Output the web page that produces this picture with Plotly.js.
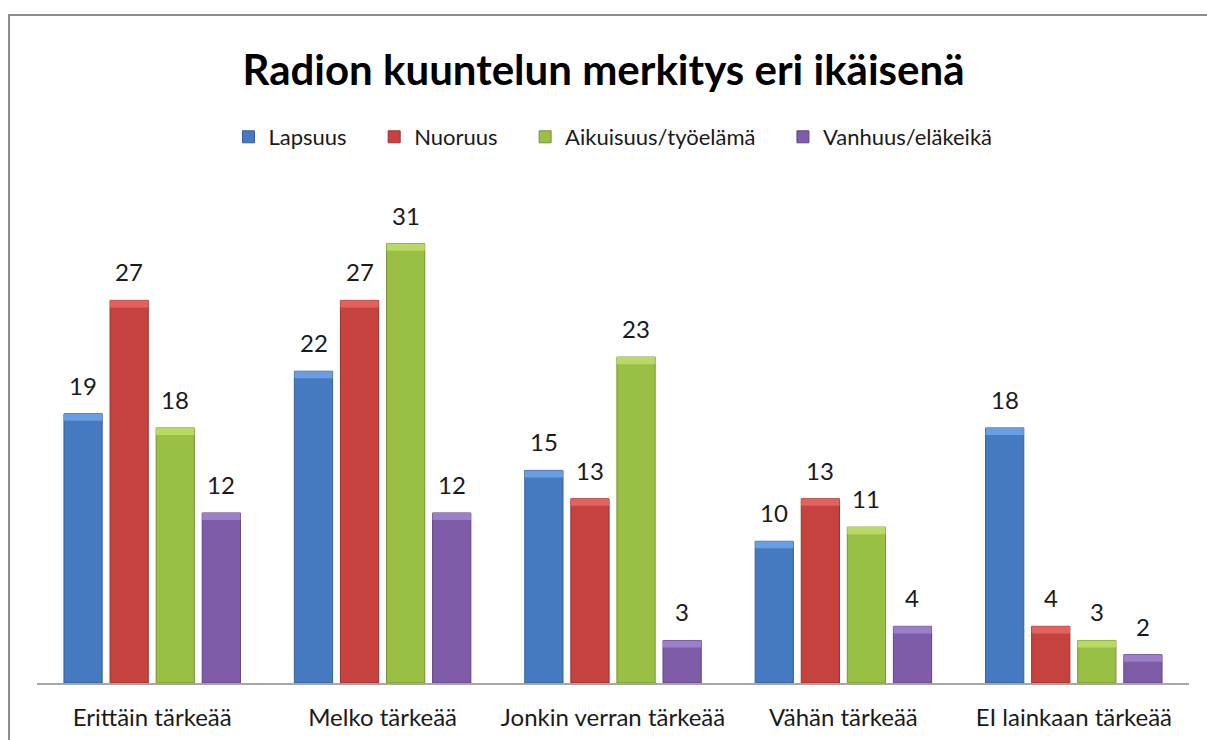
<!DOCTYPE html>
<html>
<head>
<meta charset="utf-8">
<script src="https://cdn.plot.ly/plotly-3.0.1.min.js"></script>
<style>
  html, body { margin: 0; padding: 0; background: #ffffff; }
  #wrap { position: relative; width: 1207px; height: 740px; overflow: hidden; }
  #chart { position: absolute; left: 0; top: 0; width: 1207px; height: 740px; }
  #frame { position: absolute; left: 8px; top: 14px; width: 1300px; height: 800px;
           border-left: 2px solid #8c8c8c; border-top: 2px solid #8c8c8c; pointer-events: none; }
</style>
</head>
<body>
<div id="wrap">
  <div id="chart"></div>
  <div id="frame"></div>
</div>
<script>
const categories = ["Erittäin tärkeää", "Melko tärkeää", "Jonkin verran tärkeää", "Vähän tärkeää", "EI lainkaan tärkeää"];
const seriesNames = ["Lapsuus", "Nuoruus", "Aikuisuus/työelämä", "Vanhuus/eläkeikä"];
const lapsuus = [19, 22, 15, 10, 18];
const nuoruus = [27, 27, 13, 13, 4];
const aikuisuus = [18, 31, 23, 11, 3];
const vanhuus = [12, 12, 3, 4, 2];
const chartTitle = "Radion kuuntelun merkitys eri ikäisenä";

const seriesValues = [lapsuus, nuoruus, aikuisuus, vanhuus];
const colors = ["#4579C0", "#C6423E", "#9ABF45", "#7E5CA8"];
const capColors = ["#6A9EE0", "#E2625E", "#B8DA64", "#9D7EC8"];
const lineColors = ["#365F98", "#973230", "#76932F", "#5E4583"];

const FONT = "Lato, 'Liberation Sans', sans-serif";
const PAD = '\u00a0\u00a0\u00a0\u00a0';
const CAP = 0.5; // bevel cap height in data units

const traces = [];
seriesValues.forEach((vals, i) => {
  traces.push({
    type: 'bar',
    name: seriesNames[i] + (i < seriesValues.length - 1 ? PAD : ''),
    x: categories,
    y: vals,
    offsetgroup: 'g' + i,
    marker: { color: colors[i], line: { color: lineColors[i], width: 1 } },
    hoverinfo: 'skip'
  });
});
seriesValues.forEach((vals, i) => {
  traces.push({
    type: 'bar',
    name: seriesNames[i] + ' cap',
    showlegend: false,
    x: categories,
    y: vals.map(() => CAP),
    base: vals.map(v => v - CAP),
    offsetgroup: 'g' + i,
    marker: { color: capColors[i], line: { width: 0 } },
    hoverinfo: 'skip'
  });
});

// value labels above the bars, positioned through the axes
const nSeries = seriesValues.length;
const slotPx = 46;
const annotations = [];
seriesValues.forEach((vals, i) => {
  vals.forEach((v, j) => {
    annotations.push({
      x: categories[j], y: v, xref: 'x', yref: 'y',
      text: String(v), showarrow: false,
      xshift: (i - (nSeries - 1) / 2) * slotPx,
      yanchor: 'bottom', yshift: 12,
      font: { family: FONT, size: 24, color: '#1a1a1a' }
    });
  });
});

const layout = {
  width: 1207, height: 740,
  paper_bgcolor: '#ffffff', plot_bgcolor: '#ffffff',
  margin: { l: 37, r: 18, t: 187, b: 57 },
  title: {
    text: '<b>' + chartTitle + '</b>',
    font: { family: FONT, size: 42, color: '#000000' },
    x: 0.5, xanchor: 'center', xref: 'container',
    y: 1 - 70 / 740, yanchor: 'middle', yref: 'container'
  },
  showlegend: true,
  legend: {
    orientation: 'h', x: 0.5, xanchor: 'center', y: (683 - 137) / 496, yanchor: 'middle',
    font: { family: FONT, size: 22, color: '#1a1a1a' },
    itemwidth: 30, traceorder: 'normal'
  },
  barmode: 'group',
  bargap: 0.2,
  bargroupgap: 0.17,
  xaxis: {
    type: 'category',
    showline: true, linecolor: '#a6a6a6', linewidth: 2,
    showgrid: false, zeroline: false, ticks: '',
    tickfont: { family: FONT, size: 24, color: '#1a1a1a' },
    ticklabelstandoff: 12,
    fixedrange: true
  },
  yaxis: {
    range: [0, 35],
    visible: false, showgrid: false, zeroline: false,
    fixedrange: true
  },
  annotations: annotations
};

Plotly.newPlot('chart', traces, layout, { displayModeBar: false, staticPlot: true });
</script>
</body>
</html>
